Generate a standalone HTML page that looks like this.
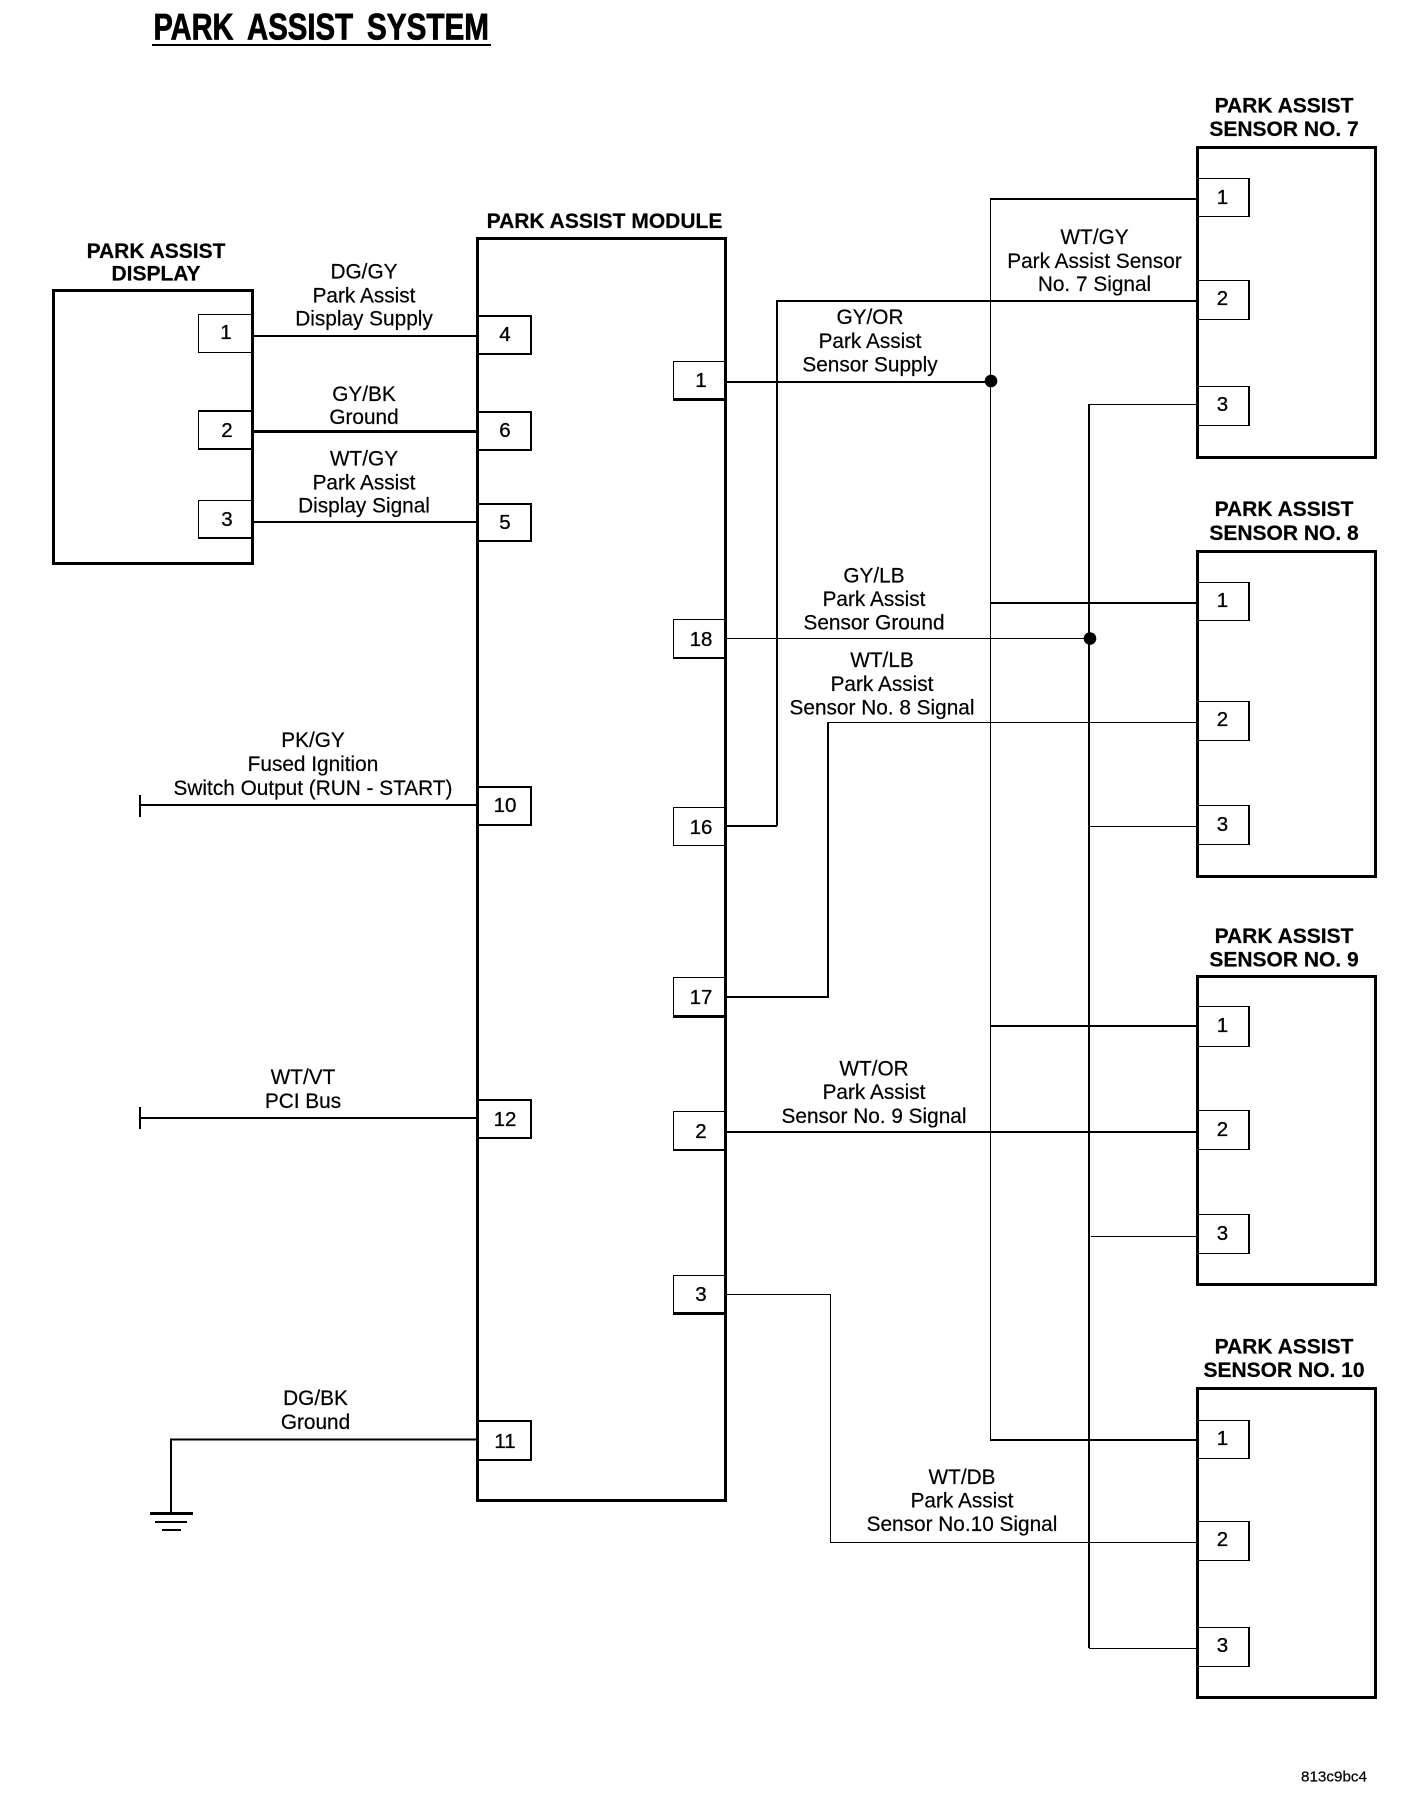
<!DOCTYPE html>
<html lang="en"><head><meta charset="utf-8"><title>Park Assist System</title>
<style>
html,body{margin:0;padding:0;background:#fff}
svg{display:block}
text{font-family:"Liberation Sans",Arial,sans-serif;fill:#000;stroke:#000;stroke-width:.2px;font-size:20.8px;text-anchor:middle}
.b{font-weight:bold;font-size:21px}
.p{font-size:20.5px;stroke-width:.3px}
.t{font-weight:bold;font-size:37px;text-anchor:start;stroke-width:.8px}
line,rect,path{shape-rendering:crispEdges}
.box{fill:none;stroke:#000;stroke-width:3}
.pin{fill:#fff;stroke:#000;stroke-width:2}
.thin{fill:#fff;stroke:#000;stroke-width:1}
.w1{stroke:#000;stroke-width:1;fill:none}
.w2{stroke:#000;stroke-width:2;fill:none}
.w3{stroke:#000;stroke-width:3;fill:none}
</style></head><body>
<svg width="1408" height="1818" viewBox="0 0 1408 1818" xmlns="http://www.w3.org/2000/svg">
<rect width="1408" height="1818" fill="#fff"/>

<!-- Title -->
<text class="t" x="153.5" y="39.5" textLength="80" lengthAdjust="spacingAndGlyphs">PARK</text>
<text class="t" x="247" y="39.5" textLength="106" lengthAdjust="spacingAndGlyphs">ASSIST</text>
<text class="t" x="367" y="39.5" textLength="122" lengthAdjust="spacingAndGlyphs">SYSTEM</text>
<line x1="152" y1="45" x2="491" y2="45" class="w2"/>

<!-- Wires -->
<path class="w2" d="M253 336H477"/>
<path class="w3" d="M253 431.5H477"/>
<path class="w2" d="M253 522H477"/>
<path class="w2" d="M140 805H477M140 795V817"/>
<path class="w2" d="M140 1118H477M140 1107V1129"/>
<path class="w2" d="M171 1513V1439.5H477"/>
<path class="w3" d="M150 1513.5H193"/>
<path class="w2" d="M155 1522H187"/>
<path class="w2" d="M162 1530H181"/>

<path class="w2" d="M726 382H990"/>
<path class="w1" d="M990.5 199V1440"/>
<path class="w2" d="M990 199H1197"/>
<path class="w2" d="M777 826V301H1197M726 826H777"/>
<path class="w2" d="M990 603H1197"/>
<path class="w2" d="M990 1026H1197"/>
<path class="w2" d="M990 1440H1197"/>
<path class="w1" d="M726 638.5H1089"/>
<path class="w2" d="M1089 404V1648"/>
<path class="w1" d="M1089 404.5H1197"/>
<path class="w1" d="M1089 826.5H1197"/>
<path class="w1" d="M1091 1236.5H1197"/>
<path class="w1" d="M1089 1648.5H1197"/>
<path class="w2" d="M726 997H828V722"/>
<path class="w1" d="M828 722.5H1197"/>
<path class="w2" d="M726 1132H1197"/>
<path class="w1" d="M726 1294.5H830.5V1542.5H1197"/>
<circle cx="991" cy="381" r="6.3" fill="#000"/>
<circle cx="1090" cy="638.5" r="6.3" fill="#000"/>

<!-- Display -->
<rect class="box" x="53.5" y="290.5" width="199" height="273"/>
<rect class="thin" x="198.5" y="314.5" width="53" height="38"/>
<rect class="thin" x="198.5" y="411.5" width="53" height="38"/>
<rect class="thin" x="198.5" y="500.5" width="53" height="38"/>
<path class="w2" d="M198 411H252M198 449H252M198 538H252"/>

<!-- Module -->
<rect class="box" x="477.5" y="238.5" width="248" height="1262"/>
<rect class="pin" x="478" y="316" width="53" height="38"/>
<rect class="pin" x="478" y="412" width="53" height="38"/>
<rect class="pin" x="478" y="504" width="53" height="37"/>
<rect class="pin" x="478" y="787" width="53" height="38"/>
<rect class="pin" x="478" y="1100" width="53" height="38"/>
<rect class="pin" x="478" y="1421" width="53" height="39"/>

<rect class="thin" x="673.5" y="361.5" width="51" height="38"/>
<rect class="thin" x="673.5" y="619.5" width="51" height="38"/>
<rect class="thin" x="673.5" y="807.5" width="51" height="38"/>
<rect class="thin" x="673.5" y="977.5" width="51" height="38"/>
<rect class="thin" x="673.5" y="1111.5" width="51" height="38"/>
<rect class="thin" x="673.5" y="1275.5" width="51" height="38"/>
<path class="w3" d="M673 399.5H725M673 1016.5H725M673 1313.5H725"/>
<path class="w2" d="M673 658H725M673 1150H725"/>

<!-- Sensor 7 -->
<rect class="box" x="1197.5" y="147.5" width="178" height="310"/>
<rect class="thin" x="1198.5" y="178.5" width="50" height="38"/>
<rect class="thin" x="1198.5" y="280.5" width="50" height="39"/>
<rect class="thin" x="1198.5" y="386.5" width="50" height="39"/>

<!-- Sensor 8 -->
<rect class="box" x="1197.5" y="551.5" width="178" height="325"/>
<rect class="thin" x="1198.5" y="582.5" width="50" height="38"/>
<rect class="thin" x="1198.5" y="701.5" width="50" height="39"/>
<rect class="thin" x="1198.5" y="805.5" width="50" height="39"/>

<!-- Sensor 9 -->
<rect class="box" x="1197.5" y="976.5" width="178" height="308"/>
<rect class="thin" x="1198.5" y="1006.5" width="50" height="40"/>
<rect class="thin" x="1198.5" y="1110.5" width="50" height="39"/>
<rect class="thin" x="1198.5" y="1214.5" width="50" height="39"/>

<!-- Sensor 10 -->
<rect class="box" x="1197.5" y="1388.5" width="178" height="309"/>
<rect class="thin" x="1198.5" y="1420.5" width="50" height="38"/>
<rect class="thin" x="1198.5" y="1521.5" width="50" height="39"/>
<rect class="thin" x="1198.5" y="1627.5" width="50" height="39"/>
<path class="w2" d="M1249 178V217M1249 280V320M1249 386V426M1249 582V621M1249 701V741M1249 805V845M1249 1006V1047M1249 1110V1150M1249 1214V1254M1249 1420V1459M1249 1521V1561M1249 1627V1667"/>

<g transform="translate(0,-1)">
<!-- Pin numbers -->
<text class="p" x="226" y="340">1</text>
<text class="p" x="227" y="438">2</text>
<text class="p" x="227" y="527">3</text>
<text class="p" x="505" y="342">4</text>
<text class="p" x="505" y="438">6</text>
<text class="p" x="505" y="530">5</text>
<text class="p" x="505" y="813">10</text>
<text class="p" x="505" y="1127">12</text>
<text class="p" x="505" y="1449">11</text>
<text class="p" x="701" y="388">1</text>
<text class="p" x="701" y="647">18</text>
<text class="p" x="701" y="835">16</text>
<text class="p" x="701" y="1005">17</text>
<text class="p" x="701" y="1139">2</text>
<text class="p" x="701" y="1302">3</text>
<text class="p" x="1222.5" y="205">1</text>
<text class="p" x="1222.5" y="306">2</text>
<text class="p" x="1222.5" y="412">3</text>
<text class="p" x="1222.5" y="608">1</text>
<text class="p" x="1222.5" y="727">2</text>
<text class="p" x="1222.5" y="832">3</text>
<text class="p" x="1222.5" y="1033">1</text>
<text class="p" x="1222.5" y="1137">2</text>
<text class="p" x="1222.5" y="1241">3</text>
<text class="p" x="1222.5" y="1446">1</text>
<text class="p" x="1222.5" y="1547">2</text>
<text class="p" x="1222.5" y="1653">3</text>

<!-- Headings -->
<text class="b" x="604.5" y="229">PARK ASSIST MODULE</text>
<text class="b" x="156" y="259">PARK ASSIST</text>
<text class="b" x="156" y="281.5">DISPLAY</text>
<text class="b" x="1284" y="113.5">PARK ASSIST</text>
<text class="b" x="1284" y="137">SENSOR NO. 7</text>
<text class="b" x="1284" y="517">PARK ASSIST</text>
<text class="b" x="1284" y="541">SENSOR NO. 8</text>
<text class="b" x="1284" y="944">PARK ASSIST</text>
<text class="b" x="1284" y="967.5">SENSOR NO. 9</text>
<text class="b" x="1284" y="1354.5">PARK ASSIST</text>
<text class="b" x="1284" y="1378">SENSOR NO. 10</text>

<!-- Wire labels -->
<text x="364" y="279.5">DG/GY</text>
<text x="364" y="303.5">Park Assist</text>
<text x="364" y="326.5">Display Supply</text>
<text x="364" y="402">GY/BK</text>
<text x="364" y="425">Ground</text>
<text x="364" y="466.5">WT/GY</text>
<text x="364" y="490.5">Park Assist</text>
<text x="364" y="513.5">Display Signal</text>
<text x="313" y="748">PK/GY</text>
<text x="313" y="772">Fused Ignition</text>
<text x="313" y="796">Switch Output (RUN - START)</text>
<text x="303" y="1085">WT/VT</text>
<text x="303" y="1109">PCI Bus</text>
<text x="315.5" y="1406">DG/BK</text>
<text x="315.5" y="1430">Ground</text>
<text x="1094.5" y="245">WT/GY</text>
<text x="1094.5" y="269">Park Assist Sensor</text>
<text x="1094.5" y="292">No. 7 Signal</text>
<text x="870" y="325">GY/OR</text>
<text x="870" y="349">Park Assist</text>
<text x="870" y="372.5">Sensor Supply</text>
<text x="874" y="583.5">GY/LB</text>
<text x="874" y="607">Park Assist</text>
<text x="874" y="630.5">Sensor Ground</text>
<text x="882" y="668">WT/LB</text>
<text x="882" y="692">Park Assist</text>
<text x="882" y="715.5">Sensor No. 8 Signal</text>
<text x="874" y="1076.5">WT/OR</text>
<text x="874" y="1100">Park Assist</text>
<text x="874" y="1124">Sensor No. 9 Signal</text>
<text x="962" y="1485">WT/DB</text>
<text x="962" y="1508.5">Park Assist</text>
<text x="962" y="1532">Sensor No.10 Signal</text>
<text x="1334" y="1782.5" style="font-size:15px" textLength="66" lengthAdjust="spacingAndGlyphs">813c9bc4</text>
</g>
</svg>
</body></html>
